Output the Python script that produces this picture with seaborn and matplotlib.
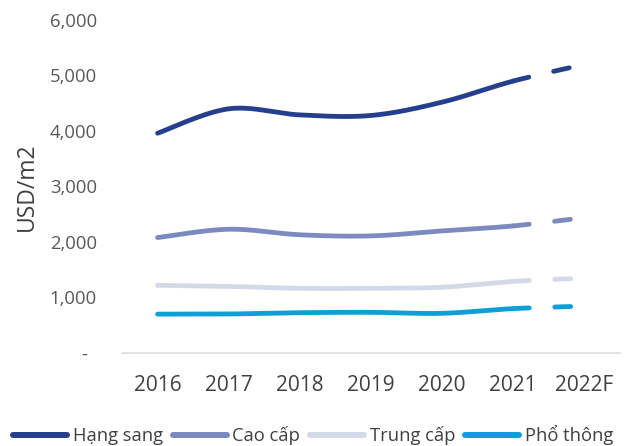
import numpy as np
import pandas as pd
import matplotlib
matplotlib.use("Agg")
import matplotlib.pyplot as plt
from matplotlib.lines import Line2D
import seaborn as sns

# Average selling price by apartment segment (USD/m2)
years = ["2016", "2017", "2018", "2019", "2020", "2021", "2022F"]
hang_sang = [3960, 4400, 4290, 4280, 4520, 4900, 5200]
cao_cap = [2080, 2230, 2130, 2110, 2200, 2290, 2440]
trung_cap = [1220, 1200, 1165, 1165, 1185, 1290, 1350]
pho_thong = [700, 703, 726, 733, 715, 800, 845]

series_names = ["Hạng sang", "Cao cấp", "Trung cấp", "Phổ thông"]
series_values = [hang_sang, cao_cap, trung_cap, pho_thong]
colors = ["#253F8E", "#7B8BBF", "#D4D9EA", "#0E9FD8"]

y_ticks = [0, 1000, 2000, 3000, 4000, 5000, 6000]
y_tick_labels = ["-  ", "1,000", "2,000", "3,000", "4,000", "5,000", "6,000"]

sns.set_theme(style="white")
plt.rcParams["font.family"] = ["Open Sans", "DejaVu Sans"]
plt.rcParams["lines.scale_dashes"] = False

DPI = 100
PX = 72 / DPI  # points per pixel


def smooth_segments(values, n=40):
    """Bezier smoothing (Catmull-Rom style) between consecutive points."""
    pts = np.column_stack([np.arange(len(values), dtype=float), np.asarray(values, float)])
    segs = []
    for i in range(len(pts) - 1):
        p0 = pts[max(i - 1, 0)]
        p1 = pts[i]
        p2 = pts[i + 1]
        p3 = pts[min(i + 2, len(pts) - 1)]
        c1 = p1 + (p2 - p0) / 6.0
        c2 = p2 - (p3 - p1) / 6.0
        t = np.linspace(0, 1, n)[:, None]
        b = ((1 - t) ** 3) * p1 + 3 * ((1 - t) ** 2) * t * c1 + 3 * (1 - t) * t ** 2 * c2 + t ** 3 * p2
        segs.append(b)
    return segs


fig = plt.figure(figsize=(6.3, 4.46), dpi=DPI)
ax = fig.add_axes([122 / 630, 1 - 353 / 446, 498 / 630, 333 / 446])

lw = 4.8 * PX
for name, vals, col in zip(series_names, series_values, colors):
    segs = smooth_segments(vals)
    solid = np.vstack(segs[:-1])
    dashed = segs[-1]
    df_solid = pd.DataFrame({"x": solid[:, 0], "y": solid[:, 1]})
    df_dash = pd.DataFrame({"x": dashed[:, 0], "y": dashed[:, 1]})
    sns.lineplot(data=df_solid, x="x", y="y", ax=ax, color=col, lw=lw,
                 sort=False, estimator=None, solid_capstyle="round")
    sns.lineplot(data=df_dash, x="x", y="y", ax=ax, color=col, lw=lw,
                 sort=False, estimator=None)
    line = ax.lines[-1]
    line.set_dashes((16 * PX, 25.5 * PX))
    line.set_dash_capstyle("round")

ax.set_xlim(-0.5, len(years) - 0.5)
ax.set_ylim(0, 6000)
ax.set_xticks(range(len(years)))
ax.set_xticklabels(years)
ax.set_yticks(y_ticks)
ax.set_yticklabels(y_tick_labels)
ax.tick_params(axis="x", labelsize=15, colors="#404040", length=0, pad=16)
ax.tick_params(axis="y", labelsize=13.3, colors="#595959", length=0, pad=18)
ax.set_xlabel("")
ax.set_ylabel("USD/m2", fontsize=16.5, color="#404040", labelpad=8)

for side in ["top", "right", "left"]:
    ax.spines[side].set_visible(False)
ax.spines["bottom"].set_color("#D9D9D9")
ax.spines["bottom"].set_linewidth(1.5 * PX)
ax.grid(False)

handles = [Line2D([0], [0], color=c, lw=6 * PX, solid_capstyle="round") for c in colors]
fig.legend(handles, series_names, loc="center", bbox_to_anchor=(0.497, 1 - 435 / 446),
           ncol=4, frameon=False, fontsize=13.2, handlelength=2.95, handletextpad=0.3,
           columnspacing=0.55, borderpad=0, labelcolor="#404040")

fig.savefig("out.png", dpi=DPI, facecolor="white")
